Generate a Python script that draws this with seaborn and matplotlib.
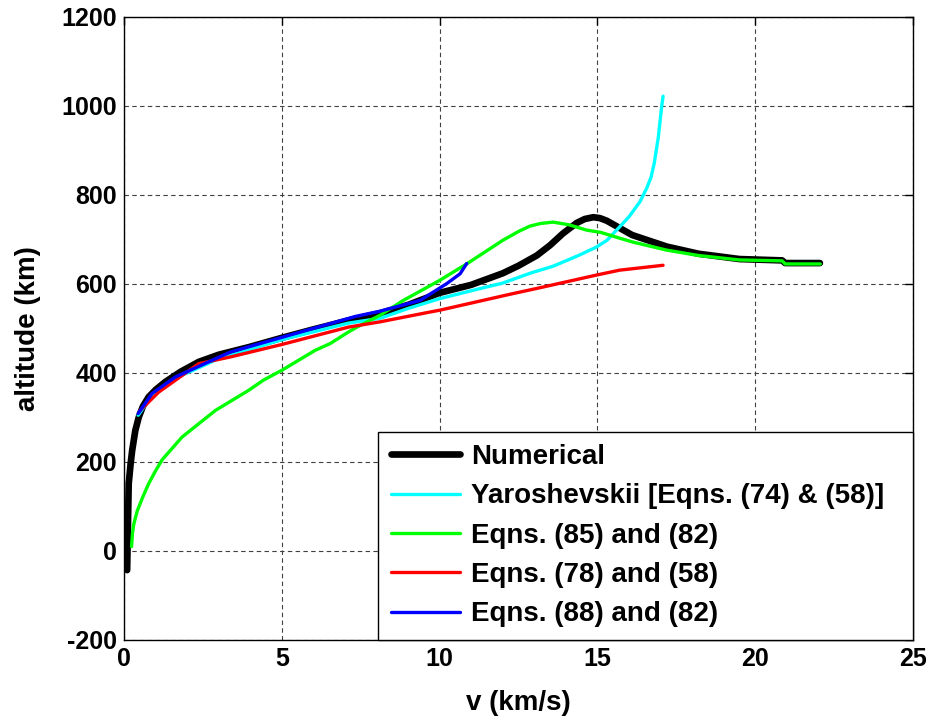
import matplotlib
matplotlib.use("Agg")
import matplotlib.pyplot as plt
import seaborn as sns
import pandas as pd

# Velocity (km/s) and altitude (km) for each trajectory model
num_v = [0.10, 0.13, 0.15, 0.21, 0.26, 0.36, 0.47, 0.60, 0.78, 1.00, 1.31, 1.80, 2.37,
         3.00, 3.95, 5.00, 6.00, 7.11, 8.10, 9.00, 10.00, 11.00, 12.00, 12.50, 13.08,
         13.50, 13.90, 14.34, 14.60, 14.87, 15.08, 15.30, 15.60, 16.10, 17.20, 18.20,
         19.50, 20.85, 20.95, 22.05]
num_alt = [-43, 76, 151, 196, 226, 271, 301, 325, 346, 362, 380, 403, 425,
           441, 458, 479, 498, 518, 534, 553, 580, 598, 624, 641, 664,
           687, 713, 737, 746, 750, 748, 742, 730, 710, 684, 668,
           656, 653, 647, 647]

yar_v = [0.45, 0.90, 1.63, 2.90, 5.00, 7.11, 8.12, 9.00, 10.00, 11.30, 12.00, 12.90,
         13.60, 14.40, 14.97, 15.30, 15.70, 16.00, 16.35, 16.56, 16.70, 16.80, 16.93,
         17.03, 17.08]
yar_alt = [305, 351, 388, 429, 475, 512, 523, 545, 567, 590, 602, 625,
           640, 664, 683, 698, 728, 751, 785, 815, 840, 871, 930,
           995, 1022]

e85_v = [0.24, 0.27, 0.31, 0.42, 0.60, 0.78, 1.00, 1.21, 1.84, 2.90, 3.95, 4.42, 5.00,
         6.06, 6.53, 7.11, 7.38, 8.12, 8.85, 10.00, 10.90, 12.00, 12.50, 12.86, 13.20,
         13.60, 14.10, 14.66, 15.10, 15.70, 16.13, 17.20, 18.20, 19.50, 20.85, 20.95,
         22.06]
e85_alt = [10, 40, 60, 90, 122, 151, 180, 205, 256, 316, 361, 384, 406,
           451, 466, 492, 503, 530, 563, 608, 647, 698, 718, 730, 736,
           739, 733, 721, 716, 703, 694, 676, 664, 654, 652, 645,
           645]

e78_v = [0.50, 1.10, 2.37, 3.37, 5.00, 7.11, 8.12, 9.70, 10.00, 12.30, 13.08, 14.97,
         15.70, 17.08]
e78_alt = [315, 357, 421, 436, 464, 503, 515, 537, 541, 578, 590, 620,
           631, 642]

e88_v = [0.45, 0.89, 1.63, 2.90, 3.37, 5.00, 7.33, 8.12, 9.38, 10.23, 10.65, 10.86]
e88_alt = [309, 354, 391, 432, 447, 480, 527, 539, 563, 601, 623, 646]

labels = ["Numerical", "Yaroshevskii [Eqns. (74) & (58)]", "Eqns. (85) and (82)",
          "Eqns. (78) and (58)", "Eqns. (88) and (82)"]
colors = ["#000000", "#00FFFF", "#00FF00", "#FF0000", "#0000FF"]
widths = [4.8, 2.4, 2.4, 2.4, 2.4]

sns.set_style("white")
plt.rcParams["font.family"] = ["Liberation Sans", "DejaVu Sans"]
plt.rcParams["font.weight"] = "bold"
plt.rcParams["axes.unicode_minus"] = False
for key in ("text.color", "axes.labelcolor", "xtick.color", "ytick.color"):
    plt.rcParams[key] = "black"

fig = plt.figure(figsize=(9.35, 7.19), dpi=100)
ax = fig.add_axes([0.1326, 0.1099, 0.8439, 0.8665])

series = [(num_v, num_alt), (yar_v, yar_alt), (e85_v, e85_alt), (e78_v, e78_alt), (e88_v, e88_alt)]
for (v, alt), lab, col, lw in zip(series, labels, colors, widths):
    df = pd.DataFrame({"v": v, "alt": alt})
    sns.lineplot(data=df, x="v", y="alt", sort=False, estimator=None, ax=ax,
                 color=col, linewidth=lw, label=lab)

ax.set_xlim(0, 25)
ax.set_ylim(-200, 1200)
ax.set_xticks(range(0, 26, 5))
ax.set_yticks(range(-200, 1201, 200))
ax.grid(True, linestyle=(0, (4, 3)), color="0.25", linewidth=0.8)
ax.tick_params(direction="in", length=6, width=1, top=True, right=True,
               labelsize=18, pad=5, colors="black")
for lab in ax.get_xticklabels() + ax.get_yticklabels():
    lab.set_fontweight("bold")
for sp in ax.spines.values():
    sp.set_color("black")
    sp.set_linewidth(1.0)

ax.set_xlabel("v (km/s)", fontsize=20, fontweight="bold", labelpad=14, color="black")
ax.set_ylabel("altitude (km)", fontsize=20, fontweight="bold", labelpad=15, color="black")

leg = ax.legend(loc="lower left", bbox_to_anchor=(0.322, 0.0, 0.678, 0.3),
                mode="expand", borderaxespad=0, frameon=True,
                fancybox=False, edgecolor="black", framealpha=1,
                handlelength=2.5, handletextpad=0.4, labelspacing=0.48,
                borderpad=0.45, prop={"weight": "bold", "size": 20})
leg.get_frame().set_linewidth(1.0)
for t in leg.get_texts():
    t.set_color("black")

fig.savefig("out.png", dpi=100, facecolor="white")
